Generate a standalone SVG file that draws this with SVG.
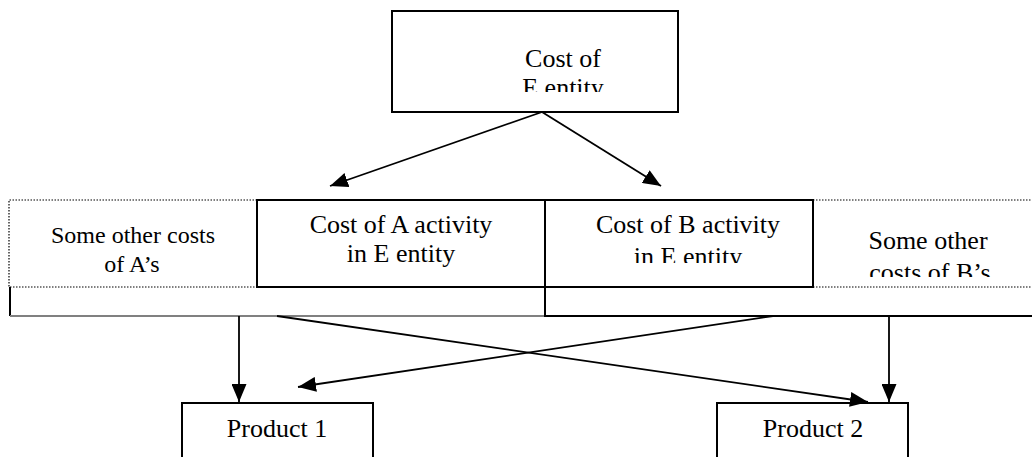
<svg xmlns="http://www.w3.org/2000/svg" width="1032" height="457" viewBox="0 0 1032 457">
  <defs>
    <style>
      .box { fill: none; stroke: #000; stroke-width: 2; }
      .dot { fill: none; stroke: #000; stroke-width: 1.2; stroke-dasharray: 1.5 1.5; }
      .edge { fill: none; stroke: #000; stroke-width: 1.8; }
      .label { font-size: 26px; fill: #000; text-anchor: middle; }
      .small { font-size: 24px; }
    </style>
    <marker id="head" viewBox="0 0 18 15" refX="18" refY="7.5" markerWidth="18" markerHeight="15" markerUnits="userSpaceOnUse" orient="auto">
      <path d="M0,0 L18,7.5 L0,15 z" fill="#000"/>
    </marker>
    <clipPath id="clipTop"><rect x="392" y="11" width="286" height="81"/></clipPath>
    <clipPath id="clipB"><rect x="545" y="200" width="268" height="63"/></clipPath>
    <clipPath id="clipBOther"><rect x="813" y="200" width="219" height="77"/></clipPath>
  </defs>

  <rect width="1032" height="457" fill="#fff"/>

  <g font-family="'Liberation Serif', 'Times New Roman', 'DejaVu Serif', serif">
    <!-- total cost of the entity -->
    <g id="node-entity">
      <rect class="box" x="392" y="11" width="286" height="101"/>
      <g clip-path="url(#clipTop)">
        <text class="label" x="563" y="67">Cost of</text>
        <text class="label" x="563" y="96">E entity</text>
      </g>
    </g>

    <!-- cost row -->
    <g id="node-other-a">
      <path class="dot" d="M257,200 H9 V287 H257"/>
      <text class="label small" x="133" y="243">Some other costs</text>
      <text class="label small" x="132" y="272">of A’s</text>
    </g>

    <g id="node-activity-a">
      <rect class="box" x="257" y="200" width="288" height="87"/>
      <text class="label" x="401" y="233">Cost of A activity</text>
      <text class="label" x="401" y="262">in E entity</text>
    </g>

    <g id="node-activity-b">
      <rect class="box" x="545" y="200" width="268" height="87"/>
      <g clip-path="url(#clipB)">
        <text class="label" x="688" y="233">Cost of B activity</text>
        <text class="label" x="688" y="265">in E entity</text>
      </g>
    </g>

    <g id="node-other-b">
      <path class="dot" d="M813,200 H1032 M813,287 H1032"/>
      <g clip-path="url(#clipBOther)">
        <text class="label" x="928" y="249">Some other</text>
        <text class="label" x="930" y="281">costs of B’s</text>
      </g>
    </g>

    <!-- pooled cost strips -->
    <g id="node-pool-a">
      <path d="M10,287 V316" stroke="#000" stroke-width="2" fill="none"/>
      <path d="M10,316 H545" stroke="#808080" stroke-width="2" fill="none"/>
    </g>
    <g id="node-pool-b">
      <path d="M545,287 V316 H1032" stroke="#000" stroke-width="2" fill="none"/>
    </g>

    <!-- products -->
    <g id="node-product-1">
      <path class="box" d="M182,470 V403 H373 V470"/>
      <text class="label" x="277" y="437">Product 1</text>
    </g>
    <g id="node-product-2">
      <path class="box" d="M717,470 V403 H908 V470"/>
      <text class="label" x="813" y="437">Product 2</text>
    </g>
  </g>

  <!-- connectors -->
  <g id="connectors">
    <line class="edge" x1="542" y1="112" x2="330" y2="186" marker-end="url(#head)"/>
    <line class="edge" x1="542" y1="112" x2="661" y2="186" marker-end="url(#head)"/>
    <line class="edge" x1="239" y1="316" x2="239" y2="402" marker-end="url(#head)"/>
    <line class="edge" x1="277" y1="316" x2="868" y2="402" marker-end="url(#head)"/>
    <line class="edge" x1="773" y1="316" x2="298" y2="387" marker-end="url(#head)"/>
    <line class="edge" x1="889" y1="316" x2="889" y2="402" marker-end="url(#head)"/>
  </g>
</svg>
